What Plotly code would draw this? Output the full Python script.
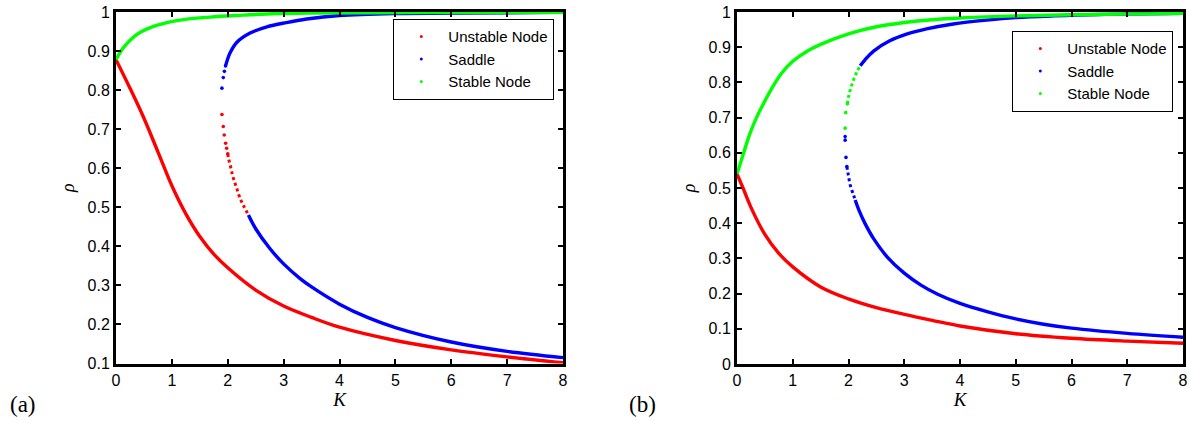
import plotly.graph_objects as go

# ---------------- data ----------------
# Panel (a)
a_red_lower_K = [0, 0.25, 0.5, 0.75, 1.0, 1.25, 1.5, 1.75, 2.0, 2.5, 3.0, 3.5, 4.0, 5.0, 6.0, 7.0, 8.0]
a_red_lower_r = [0.878, 0.805, 0.728, 0.642, 0.555, 0.483, 0.425, 0.380, 0.345, 0.288, 0.247, 0.218, 0.193,
                 0.159, 0.135, 0.117, 0.102]

a_red_fold_dots_K = [1.896, 1.92, 1.937, 1.962, 1.98, 2.0]
a_red_fold_dots_r = [0.7375, 0.707, 0.685, 0.664, 0.651, 0.637]
a_red_fold_K = [2.0, 2.014, 2.04, 2.07, 2.11, 2.16, 2.22, 2.29, 2.37]
a_red_fold_r = [0.637, 0.625, 0.611, 0.591, 0.570, 0.549, 0.523, 0.502, 0.480]

a_blue_lower_K = [2.37, 2.5, 2.75, 3.0, 3.29, 3.5, 4.0, 4.5, 5.0, 6.0, 7.0, 8.0]
a_blue_lower_r = [0.480, 0.445, 0.395, 0.355, 0.318, 0.296, 0.252, 0.218, 0.192, 0.155, 0.131, 0.115]

a_blue_up_dots_K = [1.896, 1.92, 1.94, 1.96]
a_blue_up_dots_r = [0.805, 0.832, 0.848, 0.862]
a_blue_up_K = [1.96, 1.99, 2.04, 2.16, 2.40, 2.70, 3.05, 3.41, 4.0, 5.0, 6.0, 8.0]
a_blue_up_r = [0.862, 0.876, 0.895, 0.922, 0.946, 0.962, 0.973, 0.982, 0.991, 0.996, 0.997, 0.999]

a_green_K = [0, 0.13, 0.37, 0.67, 1.09, 1.68, 2.28, 2.87, 3.41, 4.5, 6.0, 8.0]
a_green_r = [0.878, 0.908, 0.942, 0.963, 0.978, 0.987, 0.992, 0.996, 0.997, 0.998, 0.999, 0.999]

# Panel (b)
b_red_K = [0, 0.1, 0.25, 0.5, 0.75, 1.0, 1.5, 2.0, 2.5, 3.0, 3.5, 4.0, 5.0, 6.0, 7.0, 8.0]
b_red_r = [0.540, 0.503, 0.445, 0.368, 0.314, 0.276, 0.219, 0.185, 0.160, 0.141, 0.124, 0.108, 0.086,
           0.073, 0.065, 0.059]

b_green_K = [0, 0.1, 0.233, 0.35, 0.47, 0.65, 0.8, 1.0, 1.25, 1.5, 2.0, 2.5, 3.0, 3.5, 4.0, 5.0, 6.0, 8.0]
b_green_r = [0.540, 0.590, 0.655, 0.700, 0.738, 0.790, 0.826, 0.860, 0.888, 0.908, 0.938, 0.958, 0.970,
             0.978, 0.983, 0.989, 0.992, 0.996]

b_green_fold_dots_K = [1.94, 1.95, 1.98]
b_green_fold_dots_r = [0.670, 0.714, 0.739]
b_green_fold_K = [1.98, 2.0, 2.03, 2.06, 2.10, 2.15, 2.21]
b_green_fold_r = [0.739, 0.759, 0.778, 0.793, 0.811, 0.830, 0.847]

b_blue_up_K = [2.21, 2.3, 2.45, 2.74, 3.04, 3.4, 3.88, 4.48, 5.0, 5.68, 6.5, 8.0]
b_blue_up_r = [0.847, 0.865, 0.889, 0.918, 0.937, 0.952, 0.966, 0.977, 0.984, 0.989, 0.993, 0.996]

b_blue_fold_dots_K = [1.94, 1.94, 1.955, 1.97]
b_blue_fold_dots_r = [0.646, 0.636, 0.587, 0.561]
b_blue_fold_K = [1.97, 1.997, 2.03, 2.09, 2.12]
b_blue_fold_r = [0.561, 0.537, 0.509, 0.480, 0.466]
b_blue_low_K = [2.12, 2.2, 2.3, 2.45, 2.7, 3.0, 3.3, 3.6, 4.0, 4.5, 5.0, 5.5, 6.0, 7.0, 8.0]
b_blue_low_r = [0.466, 0.432, 0.398, 0.356, 0.303, 0.258, 0.224, 0.198, 0.172, 0.148, 0.128, 0.113,
                0.102, 0.087, 0.076]

legend_names = ["Unstable Node", "Saddle", "Stable Node"]
x_ticks = [0, 1, 2, 3, 4, 5, 6, 7, 8]
a_y_ticks = [0.1, 0.2, 0.3, 0.4, 0.5, 0.6, 0.7, 0.8, 0.9, 1.0]
b_y_ticks = [0, 0.1, 0.2, 0.3, 0.4, 0.5, 0.6, 0.7, 0.8, 0.9, 1.0]

# ---------------- styling ----------------
RED, BLUE, GREEN = "#ff0000", "#0000ff", "#00ff00"
SANS = "Liberation Sans, Arial, sans-serif"
SERIF = "Liberation Serif, Times New Roman, serif"
LW = 3.4
W, H = 1189, 421

fig = go.Figure()


def solid(K, r, color, xa, ya):
    fig.add_trace(go.Scatter(x=K, y=r, mode="lines", line=dict(color=color, width=LW, shape="spline"),
                             xaxis=xa, yaxis=ya, showlegend=False, hoverinfo="skip"))


def dotted(K, r, color, xa, ya):
    fig.add_trace(go.Scatter(x=K, y=r, mode="lines", line=dict(color=color, width=3, dash="dot", shape="spline"),
                             xaxis=xa, yaxis=ya, showlegend=False, hoverinfo="skip"))


def dots(K, r, color, xa, ya):
    fig.add_trace(go.Scatter(x=K, y=r, mode="markers", marker=dict(color=color, size=3.6),
                             xaxis=xa, yaxis=ya, showlegend=False, hoverinfo="skip"))


# panel (a)
solid(a_red_lower_K, a_red_lower_r, RED, "x", "y")
dots(a_red_fold_dots_K, a_red_fold_dots_r, RED, "x", "y")
dotted(a_red_fold_K, a_red_fold_r, RED, "x", "y")
solid(a_blue_lower_K, a_blue_lower_r, BLUE, "x", "y")
dots(a_blue_up_dots_K, a_blue_up_dots_r, BLUE, "x", "y")
solid(a_blue_up_K, a_blue_up_r, BLUE, "x", "y")
solid(a_green_K, a_green_r, GREEN, "x", "y")

# panel (b)
solid(b_red_K, b_red_r, RED, "x2", "y2")
solid(b_blue_up_K, b_blue_up_r, BLUE, "x2", "y2")
dots(b_blue_fold_dots_K, b_blue_fold_dots_r, BLUE, "x2", "y2")
dotted(b_blue_fold_K, b_blue_fold_r, BLUE, "x2", "y2")
solid(b_blue_low_K, b_blue_low_r, BLUE, "x2", "y2")
solid(b_green_K, b_green_r, GREEN, "x2", "y2")
dots(b_green_fold_dots_K, b_green_fold_dots_r, GREEN, "x2", "y2")
dotted(b_green_fold_K, b_green_fold_r, GREEN, "x2", "y2")

# legend entries
for leg, xa, ya in (("legend", "x", "y"), ("legend2", "x2", "y2")):
    for name, color in zip(legend_names, (RED, BLUE, GREEN)):
        fig.add_trace(go.Scatter(x=[None], y=[None], mode="markers", name=name,
                                 marker=dict(color=color, size=3), xaxis=xa, yaxis=ya,
                                 legend=leg, showlegend=True))

# geometry (pixels)
ax_l, ax_r = 116, 563
bx_l, bx_r = 737, 1183
top, bot_a, bot_b = 12, 363.5, 364


def px_x(p):
    return p / W


def px_y(p):
    return 1 - p / H


axis_common = dict(showline=True, linewidth=3, linecolor="black", mirror="ticks", ticks="inside",
                   ticklen=5, tickwidth=2, tickcolor="black", showgrid=False, zeroline=False,
                   ticklabeloverflow="allow", automargin=False,
                   tickfont=dict(family=SANS, size=16, color="black"))

legend_common = dict(xanchor="right", yanchor="top", bgcolor="white", bordercolor="black",
                     borderwidth=1.3, itemwidth=44, tracegroupgap=0,
                     font=dict(family=SANS, size=15, color="black"))

fig.update_layout(
    width=W, height=H, margin=dict(l=0, r=0, t=0, b=0, autoexpand=False),
    paper_bgcolor="white", plot_bgcolor="white",
    xaxis=dict(domain=[px_x(ax_l), px_x(ax_r)], range=[0, 8], tickvals=x_ticks, anchor="y",
               title=dict(text="<i>K</i>", font=dict(family=SERIF, size=19, color="black"), standoff=0),
               **axis_common),
    yaxis=dict(domain=[px_y(bot_a), px_y(top)], range=[0.1, 1], tickvals=a_y_ticks,
               ticktext=[f"{v:g}" for v in a_y_ticks], anchor="x",
               title=dict(text="<i>ρ</i>", font=dict(family=SERIF, size=18, color="black"), standoff=9),
               **axis_common),
    xaxis2=dict(domain=[px_x(bx_l), px_x(bx_r)], range=[0, 8], tickvals=x_ticks, anchor="y2",
                title=dict(text="<i>K</i>", font=dict(family=SERIF, size=19, color="black"), standoff=0),
                **axis_common),
    yaxis2=dict(domain=[px_y(bot_b), px_y(top)], range=[0, 1], tickvals=b_y_ticks,
                ticktext=[f"{v:g}" for v in b_y_ticks], anchor="x2",
                title=dict(text="<i>ρ</i>", font=dict(family=SERIF, size=18, color="black"), standoff=9),
                **axis_common),
    legend=dict(x=px_x(554), y=px_y(19), **legend_common),
    legend2=dict(x=px_x(1173), y=px_y(31), **legend_common),
    annotations=[
        dict(text="(a)", x=px_x(8), y=px_y(404), xref="paper", yref="paper", xanchor="left",
             yanchor="middle", showarrow=False, font=dict(family=SERIF, size=23, color="black")),
        dict(text="(b)", x=px_x(627), y=px_y(404), xref="paper", yref="paper", xanchor="left",
             yanchor="middle", showarrow=False, font=dict(family=SERIF, size=23, color="black")),
    ],
)

fig.write_html(
    "out.html",
    config={"displayModeBar": False},
    post_script="document.body.style.margin='0';document.body.style.padding='0';"
                "document.documentElement.style.overflow='hidden';",
)
